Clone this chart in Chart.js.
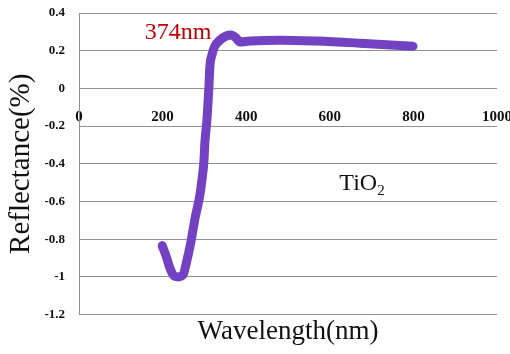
<!DOCTYPE html>
<html>
<head>
<meta charset="utf-8">
<script src="https://cdn.jsdelivr.net/npm/chart.js@4.4.1/dist/chart.umd.min.js"></script>
<style>
  html, body { margin: 0; padding: 0; background: #fff; }
  #wrap { width: 510px; height: 354px; }
</style>
</head>
<body>
<div id="wrap"><canvas id="reflChart"></canvas></div>
<script>
// wavelength (nm) and reflectance (%)
var wavelength = [199, 208, 218, 227, 237, 249, 258, 266, 278, 289, 294, 299, 301, 306, 309, 311, 313, 318, 325, 337, 352, 364, 376, 385, 409, 481, 569, 672, 799];
var reflectance = [-0.834, -0.887, -0.956, -0.994, -1.0, -0.988, -0.914, -0.834, -0.685, -0.568, -0.488, -0.382, -0.291, -0.169, -0.063, 0.017, 0.113, 0.177, 0.224, 0.256, 0.278, 0.283, 0.267, 0.246, 0.251, 0.256, 0.251, 0.24, 0.224];

var xTicks = [0, 200, 400, 600, 800, 1000];
var yTicks = [0.4, 0.2, 0, -0.2, -0.4, -0.6, -0.8, -1, -1.2];

// text notes, placed at data positions
var notes = [
    { text: '374nm', x: 237, y: 0.294, color: '#c00000', size: 24, sub: '' },
    { text: 'TiO', x: 668, y: -0.504, color: '#111', size: 24, sub: '2' }
];

var serif = '"Liberation Serif", "DejaVu Serif", serif';

var notesPlugin = {
    id: 'notes',
    afterDatasetsDraw(chart) {
        var ctx = chart.ctx;
        var xs = chart.scales.x, ys = chart.scales.y;
        notes.forEach(function(n) {
            ctx.save();
            ctx.fillStyle = n.color;
            ctx.font = n.size + 'px ' + serif;
            ctx.textAlign = 'center';
            ctx.textBaseline = 'middle';
            var px = xs.getPixelForValue(n.x), py = ys.getPixelForValue(n.y);
            ctx.fillText(n.text, px, py);
            if (n.sub) {
                var w = ctx.measureText(n.text).width;
                ctx.font = Math.round(n.size * 0.62) + 'px ' + serif;
                ctx.textAlign = 'left';
                ctx.fillText(n.sub, px + w / 2, py + n.size * 0.3);
            }
            ctx.restore();
        });
    }
};

// drop the extra room the scales reserve for their end labels
function noEdgePadding(axis) {
    axis.paddingTop = 0;
    axis.paddingBottom = 0;
    axis.paddingLeft = 0;
    axis.paddingRight = 0;
}

var points = wavelength.map(function(w, i) { return { x: w, y: reflectance[i] }; });

new Chart(document.getElementById('reflChart'), {
    type: 'scatter',
    data: {
        datasets: [{
            data: points,
            showLine: true,
            borderColor: '#7242c2',
            backgroundColor: '#7242c2',
            borderWidth: 9,
            pointRadius: 0,
            borderCapStyle: 'round',
            borderJoinStyle: 'round',
            cubicInterpolationMode: 'monotone'
        }]
    },
    options: {
        responsive: true,
        maintainAspectRatio: false,
        animation: false,
        layout: { padding: { top: 13, right: 13, left: 0, bottom: 0 } },
        plugins: {
            legend: { display: false },
            tooltip: { enabled: false },
            title: {
                display: true,
                position: 'bottom',
                fullSize: false,
                text: 'Wavelength(nm)',
                color: '#111',
                font: { family: serif, size: 27, weight: 'normal' },
                padding: { top: 1, bottom: 6 }
            }
        },
        scales: {
            x: {
                type: 'linear',
                position: { y: 0 },
                min: 0,
                max: 1000,
                afterBuildTicks: function(axis) { axis.ticks = xTicks.map(function(v) { return { value: v }; }); },
                afterFit: noEdgePadding,
                grid: { display: false },
                border: { display: false },
                ticks: {
                    padding: 12,
                    color: '#111',
                    maxRotation: 0,
                    callback: function(v) { return String(v); },
                    font: { family: serif, size: 15, weight: 'bold' }
                }
            },
            y: {
                min: -1.2,
                max: 0.4,
                afterBuildTicks: function(axis) { axis.ticks = yTicks.map(function(v) { return { value: v }; }); },
                afterFit: function(axis) { noEdgePadding(axis); axis.width = 79; },
                grid: { color: '#929292', lineWidth: 1, drawTicks: false },
                border: { display: true, color: '#929292' },
                ticks: {
                    padding: 14,
                    color: '#111',
                    callback: function(v) { return String(Math.round(v * 10) / 10); },
                    font: { family: serif, size: 13, weight: 'bold' }
                },
                title: {
                    display: true,
                    text: 'Reflectance(%)',
                    color: '#111',
                    font: { family: serif, size: 29, weight: 'normal' },
                    padding: { top: 4, bottom: 0 }
                }
            }
        }
    },
    plugins: [notesPlugin]
});
</script>
</body>
</html>
